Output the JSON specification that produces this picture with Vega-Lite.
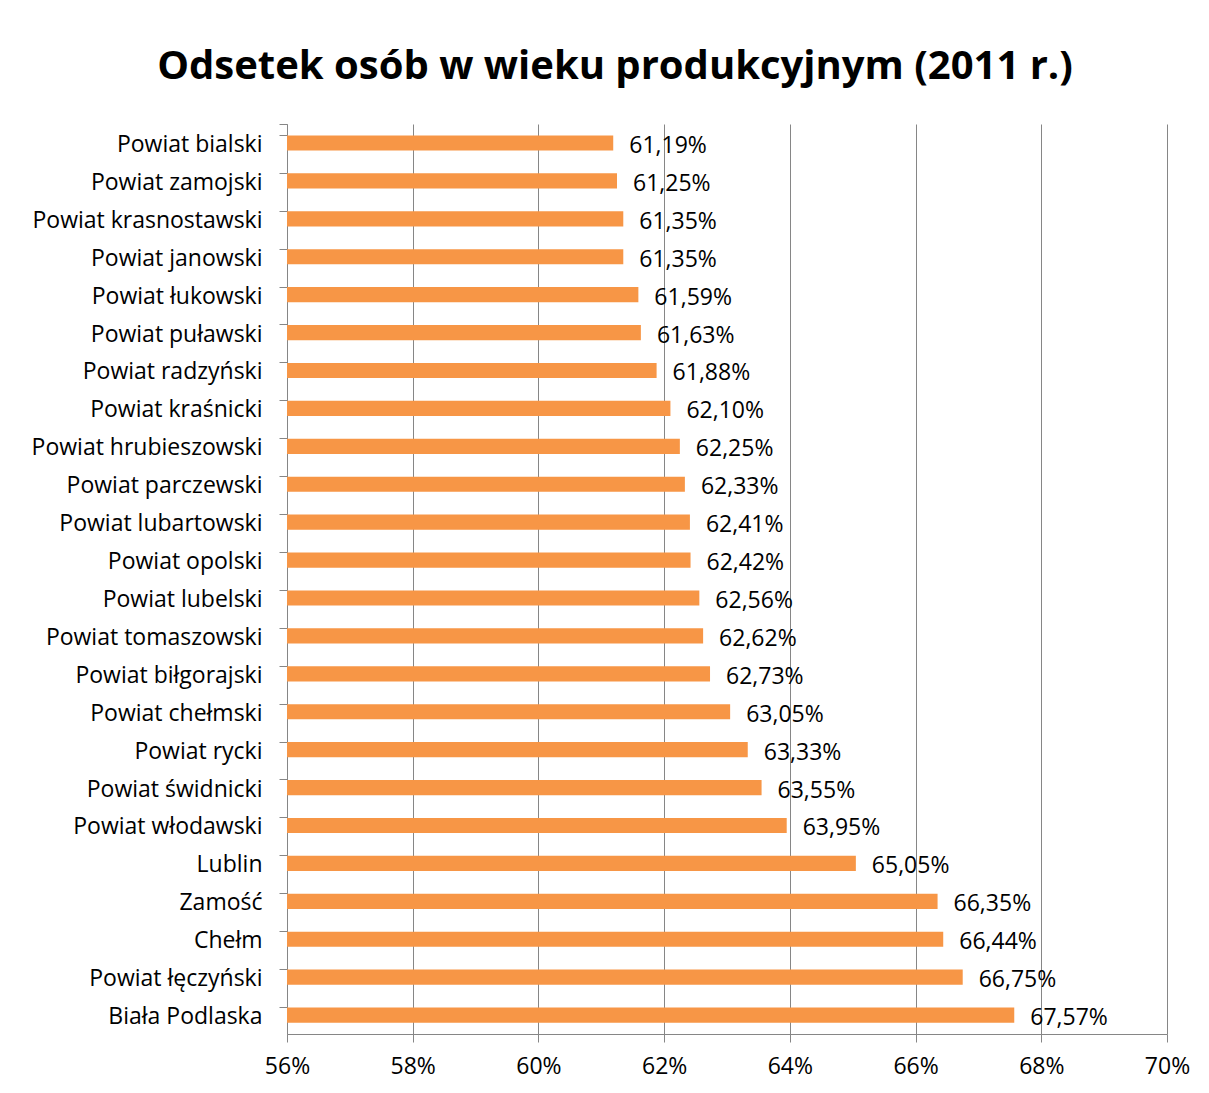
{
  "$schema": "https://vega.github.io/schema/vega-lite/v6.json",
  "width": 880,
  "height": 910,
  "autosize": {"type": "none"},
  "padding": {"left": 287, "top": 124, "right": 42, "bottom": 59},
  "background": "white",
  "title": {
    "text": "Odsetek osób w wieku produkcyjnym (2011 r.)",
    "font": "Open Sans",
    "fontSize": 40,
    "fontWeight": "bold",
    "color": "black",
    "anchor": "middle",
    "dx": -112,
    "offset": 26
  },
  "data": {
    "values": [
      {"name": "Powiat bialski", "value": 0.6119},
      {"name": "Powiat zamojski", "value": 0.6125},
      {"name": "Powiat krasnostawski", "value": 0.6135},
      {"name": "Powiat janowski", "value": 0.6135},
      {"name": "Powiat łukowski", "value": 0.6159},
      {"name": "Powiat puławski", "value": 0.6163},
      {"name": "Powiat radzyński", "value": 0.6188},
      {"name": "Powiat kraśnicki", "value": 0.621},
      {"name": "Powiat hrubieszowski", "value": 0.6225},
      {"name": "Powiat parczewski", "value": 0.6233},
      {"name": "Powiat lubartowski", "value": 0.6241},
      {"name": "Powiat opolski", "value": 0.6242},
      {"name": "Powiat lubelski", "value": 0.6256},
      {"name": "Powiat tomaszowski", "value": 0.6262},
      {"name": "Powiat biłgorajski", "value": 0.6273},
      {"name": "Powiat chełmski", "value": 0.6305},
      {"name": "Powiat rycki", "value": 0.6333},
      {"name": "Powiat świdnicki", "value": 0.6355},
      {"name": "Powiat włodawski", "value": 0.6395},
      {"name": "Lublin", "value": 0.6505},
      {"name": "Zamość", "value": 0.6635},
      {"name": "Chełm", "value": 0.6644},
      {"name": "Powiat łęczyński", "value": 0.6675},
      {"name": "Biała Podlaska", "value": 0.6757}
    ]
  },
  "encoding": {
    "y": {
      "field": "name",
      "type": "nominal",
      "sort": null,
      "scale": {"paddingInner": 0.6, "paddingOuter": 0.3},
      "axis": {
        "title": null,
        "domainColor": "#868686",
        "tickColor": "#868686",
        "tickSize": 8,
        "bandPosition": 0,
        "tickExtra": true,
        "labelPadding": 17,
        "labelOffset": 2,
        "labelLimit": 400,
        "labelFont": "Open Sans",
        "labelFontSize": 23,
        "labelColor": "black",
        "grid": false
      }
    }
  },
  "layer": [
    {
      "mark": {"type": "bar", "color": "#F79646"},
      "encoding": {
        "x": {
          "field": "value",
          "type": "quantitative",
          "scale": {"domain": [0.56, 0.70], "zero": false, "nice": false},
          "axis": {
            "title": null,
            "format": ".0%",
            "values": [0.56, 0.58, 0.60, 0.62, 0.64, 0.66, 0.68, 0.70],
            "grid": true,
            "gridColor": "#868686",
            "gridOpacity": 1,
            "domainColor": "#868686",
            "tickColor": "#868686",
            "tickSize": 8,
            "labelPadding": 13,
            "labelFlush": false,
            "labelFont": "Open Sans",
            "labelFontSize": 23,
            "labelColor": "black"
          }
        },
        "x2": {"datum": 0.56}
      }
    },
    {
      "mark": {"type": "text", "align": "left", "baseline": "middle", "dx": 16, "dy": 3, "font": "Open Sans", "fontSize": 23, "color": "black"},
      "encoding": {
        "x": {"field": "value", "type": "quantitative"},
        "text": {"field": "value", "type": "quantitative", "format": ".2%"}
      }
    }
  ],
  "config": {
    "view": {"stroke": null},
    "locale": {
      "number": {"decimal": ",", "thousands": " ", "grouping": [3], "currency": ["", " zł"]}
    }
  }
}
